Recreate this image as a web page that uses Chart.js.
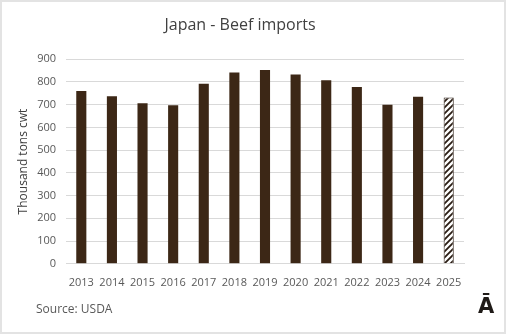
<!DOCTYPE html>
<html>
<head>
<meta charset="utf-8">
<script src="https://cdn.jsdelivr.net/npm/chart.js@4"></script>
<style>
	html, body { margin: 0; padding: 0; background: #fff; }
	#wrap { position: relative; width: 506px; height: 334px; box-sizing: border-box; border: 2px solid #e3e3e3; overflow: hidden; }
	#chart { position: absolute; left: -2px; top: -2px; }
	.note { position: absolute; font-family: 'Open Sans', sans-serif; color: #595959; }
	#source { left: 34px; top: 298px; font-size: 12px; }
	#logo { left: 476px; top: 292px; font-size: 21px; font-weight: bold; color: #1f1a17; font-family: 'DejaVu Sans', sans-serif; }
</style>
</head>
<body>
<div id="wrap">
	<canvas id="chart" width="506" height="334"></canvas>
	<div class="note" id="source">Source: USDA</div>
	<div class="note" id="logo">Ā</div>
</div>
<script>
const years = ['2013', '2014', '2015', '2016', '2017', '2018', '2019', '2020', '2021', '2022', '2023', '2024', '2025'];
const imports = [760, 737, 706, 697, 792, 841, 853, 833, 807, 778, 700, 735, 731];
const forecastYear = '2025';
const yTicks = [0, 100, 200, 300, 400, 500, 600, 700, 800, 900];

const brown = '#3c2716';

// hatch for the forecast bar
const makeHatch = () => {
	const p = document.createElement('canvas');
	p.width = 6;
	p.height = 6;
	const c = p.getContext('2d');
	c.fillStyle = '#fff';
	c.fillRect(0, 0, 6, 6);
	c.strokeStyle = '#2a1d14';
	c.lineWidth = 1.8;
	c.beginPath();
	c.moveTo(0, 6); c.lineTo(6, 0);
	c.moveTo(-3, 3); c.lineTo(3, -3);
	c.moveTo(3, 9); c.lineTo(9, 3);
	c.stroke();
	return c.createPattern(p, 'repeat');
};

const ctx = document.getElementById('chart').getContext('2d');
const hatch = makeHatch();
const fills = years.map(y => (y === forecastYear ? hatch : brown));

new Chart(ctx, {
	type: 'bar',
	data: {
		labels: years,
		datasets: [
			{
				label: 'imports',
				data: imports,
				backgroundColor: fills,
				borderColor: '#2a1d14',
				borderWidth: years.map(y => (y === forecastYear ? 1 : 0)),
				barPercentage: 0.33,
				categoryPercentage: 1,
			},
		],
	},
	options: {
		responsive: false,
		animation: false,
		layout: { padding: { left: 16, right: 42, top: 0, bottom: 41 } },
		plugins: {
			legend: { display: false },
			tooltip: { enabled: false },
			title: {
				display: true,
				text: 'Japan - Beef imports',
				color: '#404040',
				font: { family: 'Open Sans', size: 16, weight: 'normal' },
				padding: { top: 16, bottom: 24 },
			},
		},
		scales: {
			x: {
				grid: { display: false },
				border: { color: '#d9d9d9' },
				ticks: { color: '#595959', font: { family: 'Open Sans', size: 11 }, padding: 4, maxRotation: 0 },
			},
			y: {
				min: 0,
				max: 900,
				afterFit: scale => { scale.width = 50; },
				afterBuildTicks: scale => { scale.ticks = yTicks.map(v => ({ value: v })); },
				grid: { color: '#d9d9d9', drawTicks: false },
				border: { display: false },
				ticks: { color: '#595959', font: { family: 'Open Sans', size: 11 }, padding: 10 },
				title: {
					display: true,
					text: 'Thousand tons cwt',
					color: '#404040',
					font: { family: 'Open Sans', size: 12 },
					padding: { top: 0, bottom: 0 },
				},
			},
		},
	},
});
</script>
</body>
</html>
